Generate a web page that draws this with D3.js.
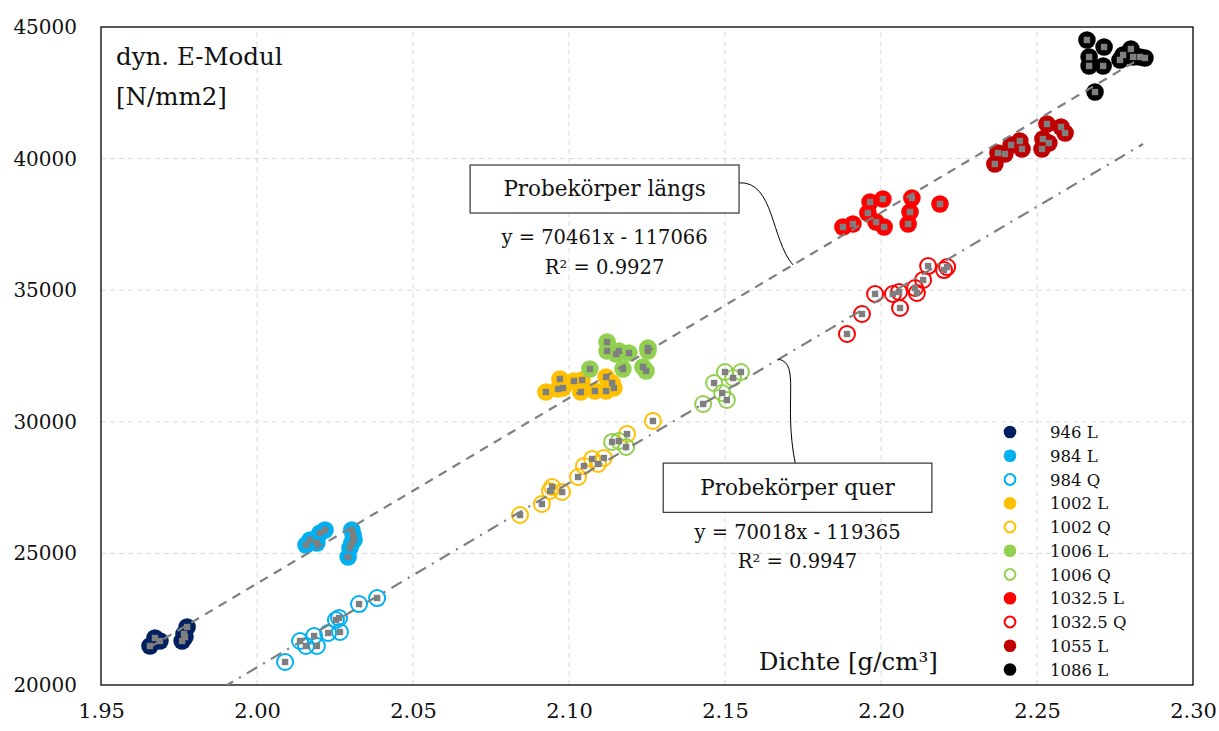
<!DOCTYPE html>
<html><head><meta charset="utf-8">
<script src="https://cdn.jsdelivr.net/npm/d3@7/dist/d3.min.js"></script>
<style>
html,body{margin:0;padding:0;background:#fff;}
text{font-family:"DejaVu Serif","Liberation Serif",serif;fill:#111;}
</style></head>
<body><svg id="c" width="1219" height="731"></svg>
<script>
// ---- data ----
const xTicks = [1.95, 2.00, 2.05, 2.10, 2.15, 2.20, 2.25, 2.30];
const yTicks = [20000, 25000, 30000, 35000, 40000, 45000];
const seriesNames = ["946 L","984 L","984 Q","1002 L","1002 Q","1006 L","1006 Q","1032.5 L","1032.5 Q","1055 L","1086 L"];
const seriesColors = ["#002060","#00b0f0","#00b0f0","#ffc000","#ffc000","#92d050","#92d050","#ff0000","#ff0000","#c00000","#000000"];
const seriesFilled = [true,true,false,true,false,true,false,true,false,true,true];

const s946L_x = [1.9657,1.9673,1.9689,1.9760,1.9766,1.9776,1.9769];
const s946L_y = [21482,21786,21672,21672,21938,22204,21824];
const s984L_x = [2.0157,2.0170,2.0192,2.0202,2.0218,2.0304,2.0308,2.0304,2.0298,2.0292,2.0311];
const s984L_y = [25319,25509,25395,25775,25889,25889,25699,25395,25205,24863,25509];
const s984Q_x = [2.0090,2.0138,2.0157,2.0183,2.0192,2.0228,2.0266,2.0253,2.0263,2.0327,2.0385];
const s984Q_y = [20874,21672,21482,21862,21482,21976,22014,22470,22546,23077,23305];
const s1002L_x = [2.0926,2.0965,2.0981,2.0971,2.1016,2.1042,2.1038,2.1083,2.1119,2.1119,2.1138,2.1144];
const s1002L_y = [31132,31246,31284,31626,31550,31588,31132,31170,31170,31702,31474,31284];
const s1002Q_x = [2.0843,2.0913,2.0939,2.0946,2.0978,2.1029,2.1048,2.1074,2.1093,2.1112,2.1186,2.1269];
const s1002Q_y = [26459,26877,27371,27523,27333,27903,28321,28587,28397,28625,29537,30031];
const s1006L_x = [2.1067,2.1122,2.1122,2.1151,2.1160,2.1192,2.1173,2.1253,2.1253,2.1237,2.1247];
const s1006L_y = [32006,33032,32690,32576,32690,32614,32006,32804,32690,32082,31930];
const s1006Q_x = [2.1138,2.1160,2.1183,2.1430,2.1465,2.1500,2.1526,2.1551,2.1491,2.1506];
const s1006Q_y = [29233,29271,29043,30676,31474,31892,31664,31892,31094,30828];
const s1032L_x = [2.1878,2.1910,2.1965,2.2006,2.1958,2.1984,2.2010,2.2099,2.2093,2.2087,2.2189];
const s1032L_y = [37401,37515,38351,38465,37933,37591,37401,38503,37971,37515,38275];
const s1032Q_x = [2.1891,2.1939,2.1981,2.2038,2.2058,2.2061,2.2109,2.2115,2.2135,2.2151,2.2202,2.2212];
const s1032Q_y = [33336,34096,34856,34856,34932,34324,35084,34894,35388,35919,35767,35881];
const s1055L_x = [2.2365,2.2375,2.2397,2.2417,2.2445,2.2452,2.2516,2.2519,2.2538,2.2532,2.2577,2.2590];
const s1055L_y = [39795,40213,40175,40517,40669,40365,40365,40745,40593,41315,41201,40973];
const s1086L_x = [2.2660,2.2667,2.2667,2.2715,2.2712,2.2766,2.2776,2.2801,2.2808,2.2830,2.2846,2.2686];
const s1086L_y = [44508,43862,43520,44240,43520,43748,43938,44166,43862,43862,43824,42530];

const seriesX = [s946L_x,s984L_x,s984Q_x,s1002L_x,s1002Q_x,s1006L_x,s1006Q_x,s1032L_x,s1032Q_x,s1055L_x,s1086L_x];
const seriesY = [s946L_y,s984L_y,s984Q_y,s1002L_y,s1002Q_y,s1006L_y,s1006Q_y,s1032L_y,s1032Q_y,s1055L_y,s1086L_y];

// trendlines: slope, intercept, x range
const trendL = {m:70461, b:-117066, x0:1.9657, x1:2.2846};
const trendQ = {m:70018, b:-119365, x0:1.9890, x1:2.2840};
const labelL = ["Probekörper längs","y = 70461x - 117066","R² = 0.9927"];
const labelQ = ["Probekörper quer","y = 70018x - 119365","R² = 0.9947"];

// ---- layout ----
const W=1219,H=731;
const m={left:101,top:27,right:W-1193,bottom:H-685};
const svg=d3.select("#c");
const x=d3.scaleLinear().domain([1.95,2.30]).range([m.left,W-m.right]);
const y=d3.scaleLinear().domain([20000,45000]).range([H-m.bottom,m.top]);

// grid
const grid=svg.append("g");
grid.selectAll("line.v").data(xTicks.slice(1,-1)).enter().append("line")
 .attr("x1",d=>x(d)).attr("x2",d=>x(d)).attr("y1",y(20000)).attr("y2",y(45000))
 .attr("stroke","#d9d9d9").attr("stroke-width",1).attr("stroke-dasharray","5,4");
grid.selectAll("line.h").data(yTicks.slice(1,-1)).enter().append("line")
 .attr("y1",d=>y(d)).attr("y2",d=>y(d)).attr("x1",x(1.95)).attr("x2",x(2.30))
 .attr("stroke","#d9d9d9").attr("stroke-width",1).attr("stroke-dasharray","5,4");

// axes
const xAxis=d3.axisBottom(x).tickValues(xTicks).tickFormat(d3.format(".2f")).tickSize(0).tickPadding(18);
const yAxis=d3.axisLeft(y).tickValues(yTicks).tickFormat(d3.format("d")).tickSize(0).tickPadding(24);
const gx=svg.append("g").attr("transform",`translate(0,${y(20000)})`).call(xAxis);
const gy=svg.append("g").attr("transform",`translate(${x(1.95)},0)`).call(yAxis);
[gx,gy].forEach(g=>{g.select(".domain").remove();g.selectAll("text").attr("font-size",20).attr("font-family","DejaVu Serif").attr("fill","#111");});
gx.selectAll("text").attr("font-size",21);

// frame
svg.append("rect").attr("x",x(1.95)).attr("y",y(45000)).attr("width",x(2.30)-x(1.95)).attr("height",y(20000)-y(45000))
 .attr("fill","none").attr("stroke","#000").attr("stroke-width",1.3);

const clip=svg.append("clipPath").attr("id","pc").append("rect").attr("x",x(1.95)).attr("y",y(45000)).attr("width",x(2.30)-x(1.95)).attr("height",y(20000)-y(45000));
const plot=svg.append("g").attr("clip-path","url(#pc)");

// points
seriesNames.forEach((n,i)=>{
  const pts=seriesX[i].map((v,j)=>[v,seriesY[i][j]]);
  const g=plot.append("g");
  g.selectAll("circle").data(pts).enter().append("circle")
   .attr("cx",d=>x(d[0])).attr("cy",d=>y(d[1]))
   .attr("r",seriesFilled[i]?8.8:8.0)
   .attr("fill",seriesFilled[i]?seriesColors[i]:"none")
   .attr("stroke",seriesFilled[i]?"none":seriesColors[i])
   .attr("stroke-width",2);
});
// grey squares (combined series)
seriesNames.forEach((n,i)=>{
  const pts=seriesX[i].map((v,j)=>[v,seriesY[i][j]]);
  plot.append("g").selectAll("rect").data(pts).enter().append("rect")
   .attr("x",d=>x(d[0])-3.2).attr("y",d=>y(d[1])-3.2).attr("width",6.4).attr("height",6.4)
   .attr("fill","#7f7f7f");
});

// trendlines
function tl(t,dash){
  plot.append("line").attr("x1",x(t.x0)).attr("y1",y(t.m*t.x0+t.b))
   .attr("x2",x(t.x1)).attr("y2",y(t.m*t.x1+t.b))
   .attr("stroke","#7f7f7f").attr("stroke-width",2.2).attr("stroke-dasharray",dash);
}
tl(trendL,"9,7");
tl(trendQ,"12,7,2,7");

// axis titles
svg.append("text").attr("x",x(1.95)+15).attr("y",y(45000)+38).attr("font-size",24.5).text("dyn. E-Modul");
svg.append("text").attr("x",x(1.95)+15).attr("y",y(45000)+78).attr("font-size",24.5).text("[N/mm2]");
svg.append("text").attr("x",x(2.2182)).attr("y",y(20000)-15).attr("font-size",24.5).attr("text-anchor","end").text("Dichte [g/cm³]");

// annotations (anchored in data coordinates)
function annot(lbl,bx0,bx1,byTop,byBot,path,eqY1,eqY2){
  const g=svg.append("g");
  g.append("path").attr("d",path).attr("fill","none").attr("stroke","#000").attr("stroke-width",1);
  g.append("rect").attr("x",x(bx0)).attr("y",y(byTop)).attr("width",x(bx1)-x(bx0)).attr("height",y(byBot)-y(byTop))
   .attr("fill","#fff").attr("stroke","#333").attr("stroke-width",1.2);
  const cx=(x(bx0)+x(bx1))/2;
  g.append("text").attr("x",cx).attr("y",(y(byTop)+y(byBot))/2+7).attr("text-anchor","middle").attr("font-size",21.5).text(lbl[0]);
  g.append("text").attr("x",cx).attr("y",eqY1).attr("text-anchor","middle").attr("font-size",19.5).text(lbl[1]);
  g.append("text").attr("x",cx).attr("y",eqY2).attr("text-anchor","middle").attr("font-size",19.5).text(lbl[2]);
}
// längs
{
  const ax=2.1718, ay=trendL.m*ax+trendL.b;
  const x0=x(2.1545), y0=y(39080);
  const p=`M${x0},${y0} C${x0+35},${y0-2} ${x(ax)-22},${y(ay)-25} ${x(ax)},${y(ay)}`;
  annot(labelL,2.0683,2.1545,39757,37933,p,y(39757)+79,y(39757)+109);
}
// quer
{
  const ax=2.1672, ay=trendQ.m*ax+trendQ.b;
  const x1=x(2.1725), y1=y(28430);
  const p=`M${x(ax)},${y(ay)} C${x(ax)+22},${y(ay)+4} ${x1-12},${y1-60} ${x1},${y1}`;
  annot(labelQ,2.1302,2.2163,28430,26560,p,y(28430)+76,y(28430)+105);
}

// legend
const lg=svg.append("g");
seriesNames.forEach((n,i)=>{
  const ly=432+i*23.75;
  lg.append("circle").attr("cx",1010).attr("cy",ly).attr("r",seriesFilled[i]?6.3:5.4)
    .attr("fill",seriesFilled[i]?seriesColors[i]:"#fff").attr("stroke",seriesFilled[i]?"none":seriesColors[i]).attr("stroke-width",2);
  lg.append("text").attr("x",1050).attr("y",ly+6).attr("font-size",16.5).text(n);
});
</script></body></html>
